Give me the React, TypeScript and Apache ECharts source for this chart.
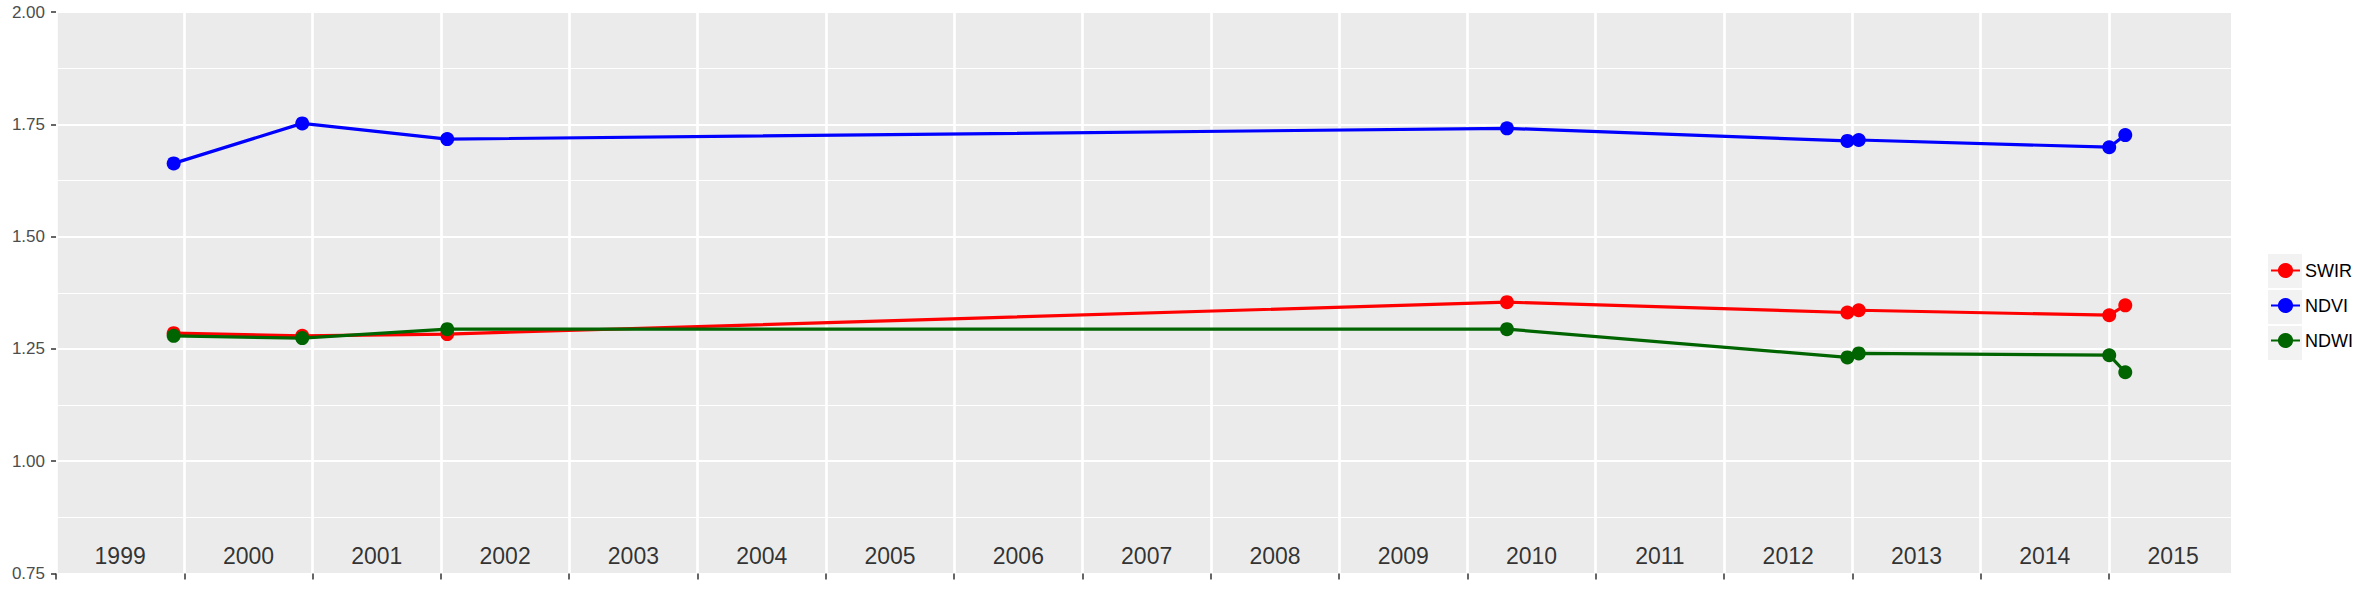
import React, { useEffect, useRef } from "react";
import * as echarts from "echarts";

// ---- data (decimal years, index values) ----
const seriesNames = ["SWIR", "NDVI", "NDWI"];
const seriesColors = ["#ff0000", "#0000ff", "#006400"];
const dates = [1999.917, 2000.919, 2002.049, 2010.308, 2012.961, 2013.05, 2015.002, 2015.127];
const swirValues = [1.285, 1.279, 1.283, 1.354, 1.331, 1.336, 1.325, 1.347];
const ndviValues = [1.663, 1.752, 1.717, 1.741, 1.713, 1.715, 1.699, 1.726];
const ndwiValues = [1.279, 1.274, 1.294, 1.294, 1.231, 1.24, 1.236, 1.198];
const yearLabels = [
  "1999", "2000", "2001", "2002", "2003", "2004", "2005", "2006", "2007",
  "2008", "2009", "2010", "2011", "2012", "2013", "2014", "2015",
];
const yearLabelLevel = 0.79;
const yTicks = { min: 0.75, max: 2.0, interval: 0.25 };
const xRange = { min: 1999, max: 2015.951, interval: 1 };

const FONT = "'Liberation Sans', Arial, Helvetica, sans-serif";

export default function App() {
  const ref = useRef<HTMLDivElement>(null);
  useEffect(() => {
    if (!ref.current) return;
    const chart = echarts.init(ref.current, null, { renderer: "svg" });
    const valueSets = [swirValues, ndviValues, ndwiValues];
    const lineSeries = seriesNames.map((name, i) => ({
      name,
      type: "line",
      data: dates.map((d, j) => [d, valueSets[i][j]]),
      symbol: "circle",
      symbolSize: 14,
      showSymbol: true,
      lineStyle: { color: seriesColors[i], width: 3.2 },
      itemStyle: { color: seriesColors[i] },
      z: 3 + i,
    }));
    const labelSeries = {
      name: "years",
      type: "scatter",
      symbolSize: 0,
      silent: true,
      data: yearLabels.map((y) => [Number(y) + 0.5, yearLabelLevel, y]),
      label: {
        show: true,
        position: "inside",
        formatter: (p: any) => p.data[2],
        color: "#000000",
        fontSize: 23,
        fontFamily: FONT,
      },
      z: 2,
    };
    const keyBoxes = seriesNames.map((_, i) => ({
      type: "rect",
      shape: { x: 2268, y: 254 + i * 36, width: 34, height: 34 },
      style: { fill: "#f2f2f2" },
      z: 0,
    }));
    const tickYears = yearLabels.map((y) => Number(y));
    chart.setOption({
      animation: false,
      backgroundColor: "#ffffff",
      grid: {
        left: 56,
        top: 12,
        width: 2175,
        height: 561.5,
        show: true,
        backgroundColor: "#ebebeb",
        borderWidth: 0,
      },
      xAxis: {
        type: "value",
        min: xRange.min,
        max: xRange.max,
        interval: xRange.interval,
        axisLine: { show: false },
        axisTick: {
          show: true,
          length: 6,
          customValues: tickYears,
          lineStyle: { color: "#333333", width: 1.5 },
        },
        axisLabel: { show: false },
        splitLine: { show: true, lineStyle: { color: "#ffffff", width: 2.7 } },
      },
      yAxis: {
        type: "value",
        min: yTicks.min,
        max: yTicks.max,
        interval: yTicks.interval,
        axisLine: { show: false },
        axisTick: { show: true, length: 5, lineStyle: { color: "#333333", width: 1.5 } },
        axisLabel: {
          show: true,
          margin: 11,
          color: "#4d4d4d",
          fontSize: 17,
          fontFamily: FONT,
          formatter: (v: number) => v.toFixed(2),
        },
        splitLine: { show: true, lineStyle: { color: "#ffffff", width: 2.2 } },
        minorTick: { show: false, splitNumber: 2 },
        minorSplitLine: { show: true, lineStyle: { color: "#ffffff", width: 1.1 } },
      },
      legend: {
        data: seriesNames,
        orient: "vertical",
        left: 2270,
        top: 261.5,
        padding: 0,
        itemWidth: 29,
        itemHeight: 19,
        itemGap: 17,
        textStyle: { color: "#000000", fontSize: 18, fontFamily: FONT },
      },
      graphic: keyBoxes,
      series: [...lineSeries, labelSeries],
    });
    return () => chart.dispose();
  }, []);
  return (
    <div
      ref={ref}
      style={{ position: "absolute", left: 0, top: 0, width: 2378, height: 593 }}
    />
  );
}
